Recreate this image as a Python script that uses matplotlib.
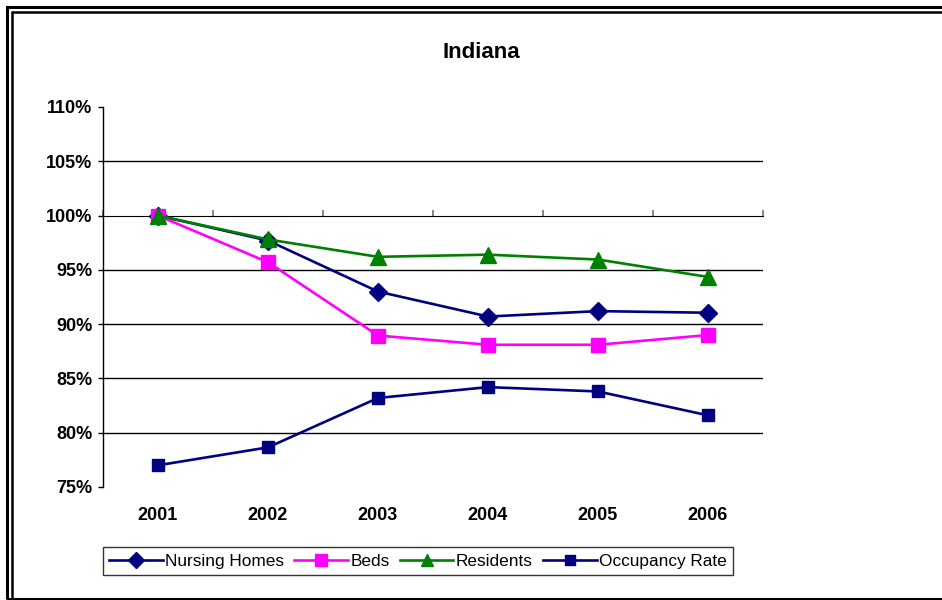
import matplotlib
matplotlib.use("Agg")
import matplotlib.pyplot as plt
from matplotlib.patches import Rectangle
from matplotlib.ticker import FuncFormatter, MultipleLocator

plt.rcParams["font.family"] = ["Liberation Sans", "DejaVu Sans"]

YEARS = ["2001", "2002", "2003", "2004", "2005", "2006"]
NURSING_HOMES = [100.0, 97.7, 93.0, 90.7, 91.2, 91.05]
BEDS = [100.0, 95.7, 88.95, 88.1, 88.1, 89.0]
RESIDENTS = [100.0, 97.8, 96.2, 96.4, 95.95, 94.35]
OCCUPANCY = [77.0, 78.65, 83.2, 84.2, 83.8, 81.6]

NAVY = "#000080"
MAGENTA = "#FF00FF"
GREEN = "#008000"

W, H = 942, 600
fig = plt.figure(figsize=(W / 100, H / 100), dpi=100)
ax = fig.add_axes([103 / W, 1 - 487 / H, 660 / W, 380 / H])

x = list(range(len(YEARS)))
series = [
    ("Nursing Homes", NURSING_HOMES, NAVY, "D", 9),
    ("Beds", BEDS, MAGENTA, "s", 10.5),
    ("Residents", RESIDENTS, GREEN, "^", 11),
    ("Occupancy Rate", OCCUPANCY, NAVY, "s", 8.5),
]
for label, vals, color, marker, ms in series:
    ax.plot(x, vals, color=color, lw=1.9, marker=marker, markersize=ms,
            markerfacecolor=color, markeredgecolor=color, label=label, zorder=3)

ax.set_xlim(-0.5, len(YEARS) - 0.5)
ax.set_ylim(75, 110)
ax.yaxis.set_major_locator(MultipleLocator(5))
ax.yaxis.set_major_formatter(FuncFormatter(lambda v, _: f"{v:.0f}%"))
for v in range(80, 110, 5):
    if v != 100:
        ax.axhline(v, color="black", lw=1.0, zorder=1)

for side in ["top", "right", "bottom"]:
    ax.spines[side].set_visible(False)
ax.spines["left"].set_linewidth(1.0)

ax.set_xticks(x)
ax.set_xticklabels(YEARS)
ax.tick_params(axis="x", length=0, pad=14.5)
ax.tick_params(axis="y", direction="out", length=3.6, width=1.0, pad=4)
for lbl in ax.get_xticklabels() + ax.get_yticklabels():
    lbl.set_fontweight("bold")
    lbl.set_fontsize(13)

# category axis crosses the value axis at 100%
cross = (100 - 75) / (110 - 75)
sec = ax.secondary_xaxis(cross)
sec.set_xticks([i - 0.5 for i in range(len(YEARS) + 1)])
sec.set_xticklabels([])
sec.tick_params(axis="x", direction="out", length=4, width=1.2, color="#707070")
sec.spines["bottom"].set_color("#707070")
sec.spines["bottom"].set_linewidth(1.4)

fig.text(481 / W, 1 - 53 / H, "Indiana", ha="center", va="center",
         fontsize=16, fontweight="bold")

leg = fig.legend(loc="center", bbox_to_anchor=(418 / W, 1 - 561 / H), ncol=4,
                 frameon=True, fancybox=False, edgecolor="black", fontsize=12.4,
                 handlelength=3.1, handletextpad=0.15, columnspacing=0.6,
                 borderpad=0.35, markerscale=0.85)
leg.get_frame().set_linewidth(1.0)

# double frame around the chart (runs off the right and bottom edges)
fig.patches.append(Rectangle((6.5 / W, 1.5 / H), 1.2, 1 - 8 / H,
                             transform=fig.transFigure, fill=False,
                             edgecolor="black", lw=2.2))
fig.patches.append(Rectangle((11.5 / W, -10 / H), 1.2, 1 - 11.5 / H + 10 / H,
                             transform=fig.transFigure, fill=False,
                             edgecolor="black", lw=1.8))

fig.savefig("out.png", dpi=100)
